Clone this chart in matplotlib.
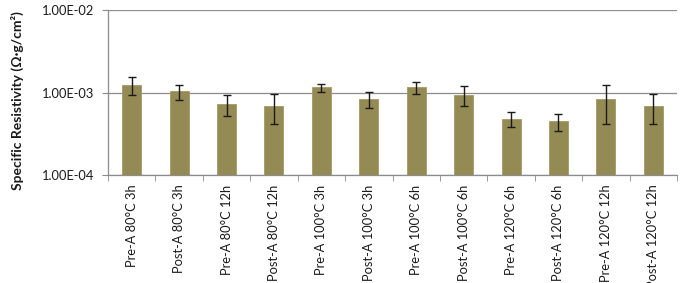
import matplotlib
matplotlib.use("Agg")
import matplotlib.pyplot as plt
from matplotlib.ticker import FixedLocator, FuncFormatter, NullLocator
import numpy as np

categories = ["Pre-A 80°C 3h", "Post-A 80°C 3h", "Pre-A 80°C 12h", "Post-A 80°C 12h",
              "Pre-A 100°C 3h", "Post-A 100°C 3h", "Pre-A 100°C 6h", "Post-A 100°C 6h",
              "Pre-A 120°C 6h", "Post-A 120°C 6h", "Pre-A 120°C 12h", "Post-A 120°C 12h"]
values = [1.22e-3, 1.03e-3, 0.72e-3, 0.69e-3, 1.15e-3, 0.83e-3,
          1.15e-3, 0.945e-3, 0.48e-3, 0.446e-3, 0.823e-3, 0.69e-3]
errors = [0.30e-3, 0.22e-3, 0.20e-3, 0.28e-3, 0.13e-3, 0.18e-3,
          0.18e-3, 0.25e-3, 0.10e-3, 0.10e-3, 0.41e-3, 0.28e-3]
yticks = [1e-4, 1e-3, 1e-2]

plt.rcParams['font.family'] = ['Lato', 'DejaVu Sans']

fig = plt.figure(figsize=(6.87, 2.83), dpi=100)
ax = fig.add_axes([108/687, 1 - 175/283, (677-108)/687, (175-10)/283])

x = np.arange(len(categories))
ax.bar(x, values, width=0.4, color="#948a54", edgecolor="#a39a68", linewidth=0.6, zorder=3)
ax.errorbar(x, values, yerr=errors, fmt='none', ecolor='#1a1a1a', elinewidth=1.0,
            capsize=3, capthick=1.0, zorder=4)

ax.set_yscale('log')
ax.set_ylim(1e-4, 1e-2)
ax.set_xlim(-0.5, len(categories) - 0.5)
ax.yaxis.set_major_locator(FixedLocator(yticks))
ax.yaxis.set_minor_locator(NullLocator())
ax.yaxis.set_major_formatter(FuncFormatter(lambda v, p: "%.2fE-%02d" % (v / 10**np.floor(np.log10(v)), -np.floor(np.log10(v)))))
ax.grid(axis='y', color='#8c8c8c', linewidth=0.9, zorder=0)

ax.set_xticks(x)
ax.set_xticklabels(categories, rotation=90, fontsize=9.3, color='#1a1a1a')
ax.xaxis.set_minor_locator(FixedLocator(np.arange(-0.5, len(categories) + 0.5, 1)))
ax.tick_params(axis='x', which='major', length=0, pad=7)
ax.tick_params(axis='x', which='minor', length=4, color='#8c8c8c', direction='out')
ax.tick_params(axis='y', which='major', length=4, color='#8c8c8c', labelsize=9.3, labelcolor='#1a1a1a', pad=6)

for s in ['top', 'right']:
    ax.spines[s].set_visible(False)
for s in ['left', 'bottom']:
    ax.spines[s].set_color('#8c8c8c')
    ax.spines[s].set_linewidth(0.9)

ax.set_ylabel("Specific Resistivity (Ω·g/cm²)", fontsize=10, fontweight='bold', color='#1a1a1a')
ax.yaxis.set_label_coords(-84/569, 0.45)

fig.savefig("out.png", dpi=100)
